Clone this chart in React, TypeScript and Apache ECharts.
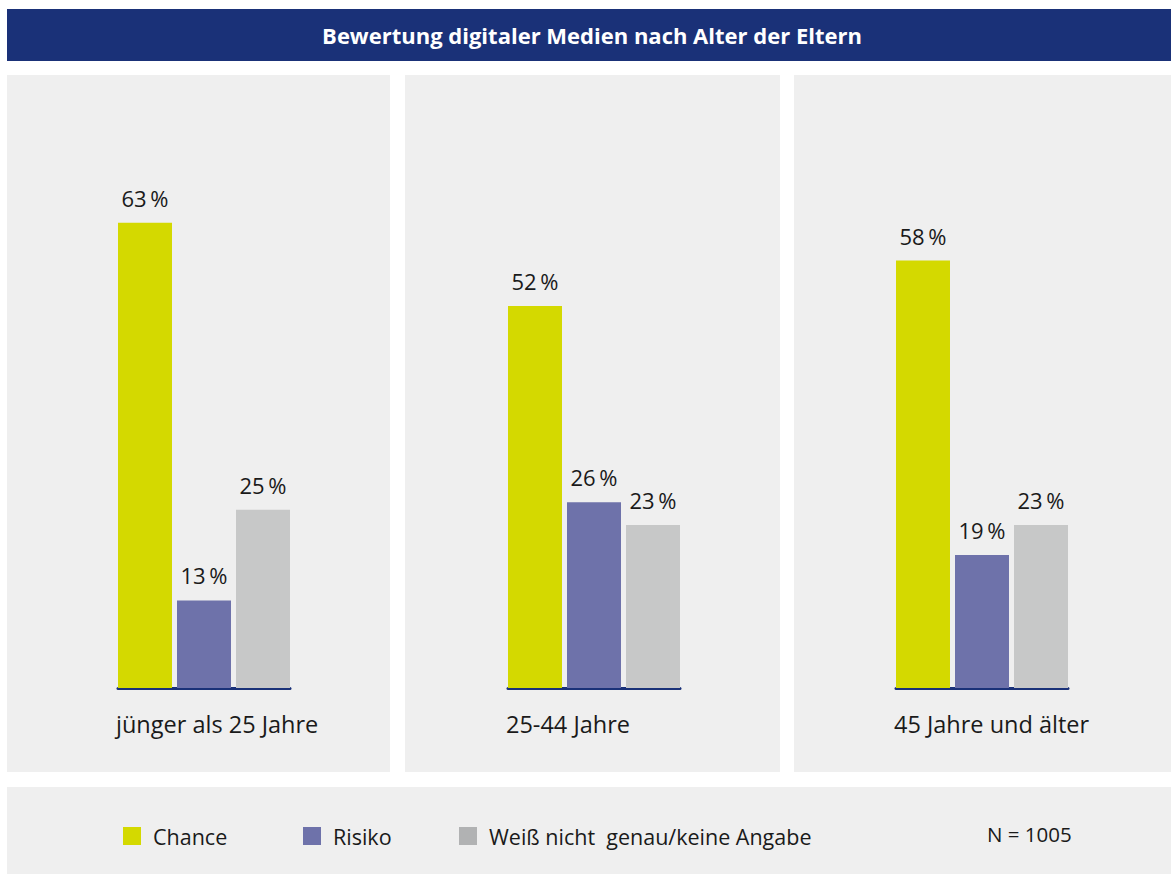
import React, { useEffect, useRef } from "react";
import * as echarts from "echarts";

const groups = ["jünger als 25 Jahre", "25-44 Jahre", "45 Jahre und älter"];
const seriesNames = ["Chance", "Risiko", "Weiß nicht  genau/keine Angabe"];
const chanceValues = [63, 52, 58];
const risikoValues = [13, 26, 19];
const weissValues = [25, 23, 23];
const allValues = [chanceValues, risikoValues, weissValues];
const barColors = ["#d4d900", "#6e72aa", "#c7c8c8"];
const legendColors = ["#d4d900", "#6e72aa", "#b1b2b3"];
const titleText = "Bewertung digitaler Medien nach Alter der Eltern";
const sampleText = "N = 1005";

const FONT = "'Open Sans', 'Noto Sans', sans-serif";
const W = 1171;
const H = 874;
const panelX = [7, 405, 794];
const panelW = [383, 375, 377];
const gridLeft = [118, 508, 896];
const legendX = [123, 303, 459];

export default function App() {
  const ref = useRef<HTMLDivElement>(null);
  useEffect(() => {
    document.body.style.margin = "0";
    const chart = echarts.init(ref.current!, null, { renderer: "svg" });
    const grids = groups.map((_, i) => ({
      left: gridLeft[i],
      width: 172,
      top: 170,
      bottom: H - 688,
      containLabel: false,
    }));
    const xAxes = groups.map((g, i) => ({
      type: "category",
      gridIndex: i,
      data: [g],
      axisLine: { show: true, lineStyle: { color: "#1a3178", width: 3 } },
      axisTick: { show: false },
      axisLabel: { show: false },
    }));
    const yAxes = groups.map((_, i) => ({
      type: "value",
      gridIndex: i,
      min: 1.4,
      max: 70,
      show: false,
      splitLine: { show: false },
    }));
    const series: any[] = [];
    groups.forEach((_, i) => {
      seriesNames.forEach((name, j) => {
        series.push({
          type: "bar",
          name,
          xAxisIndex: i,
          yAxisIndex: i,
          data: [allValues[j][i]],
          barWidth: 54,
          barGap: "9.26%",
          clip: true,
          itemStyle: { color: barColors[j] },
          z: 3,
          label: {
            show: true,
            position: "top",
            distance: 14,
            formatter: "{c}\u2009%",
            fontFamily: FONT,
            fontSize: 22,
            color: "#1a1a1a",
          },
        });
      });
    });
    const graphics: any[] = [
      { type: "rect", z: -10, shape: { x: 7, y: 9, width: W - 7, height: 52 }, style: { fill: "#1a3178" } },
      ...panelX.map((x, i) => ({
        type: "rect",
        z: -10,
        shape: { x, y: 75, width: panelW[i], height: 697 },
        style: { fill: "#efefef" },
      })),
      { type: "rect", z: -10, shape: { x: 7, y: 787, width: W - 7, height: H - 787 }, style: { fill: "#efefef" } },
      {
        type: "text",
        z: 5,
        x: 592,
        y: 35,
        style: {
          text: titleText,
          fill: "#ffffff",
          font: `bold 22px ${FONT}`,
          textAlign: "center",
          textVerticalAlign: "middle",
        },
      },
      ...groups.map((g, i) => ({
        type: "text",
        z: 5,
        x: gridLeft[i] - 2,
        y: 724,
        style: {
          text: g,
          fill: "#1a1a1a",
          font: `23.5px ${FONT}`,
          textAlign: "left",
          textVerticalAlign: "middle",
        },
      })),
      {
        type: "text",
        z: 5,
        x: 987,
        y: 834,
        style: {
          text: sampleText,
          fill: "#1a1a1a",
          font: `20.5px ${FONT}`,
          textAlign: "left",
          textVerticalAlign: "middle",
        },
      },
    ];
    chart.setOption({
      animation: false,
      grid: grids,
      xAxis: xAxes,
      yAxis: yAxes,
      series,
      legend: seriesNames.map((n, j) => ({
        left: legendX[j],
        top: 825,
        padding: 0,
        itemWidth: 18,
        itemHeight: 18,
        icon: "rect",
        selectedMode: false,
        data: [{ name: n, itemStyle: { color: legendColors[j] } }],
        textStyle: { fontFamily: FONT, fontSize: 21.5, color: "#1a1a1a", padding: [0, 0, 0, 7] },
      })),
      graphic: graphics,
    });
    return () => chart.dispose();
  }, []);
  return <div ref={ref} style={{ position: "absolute", left: 0, top: 0, width: W, height: H }} />;
}
